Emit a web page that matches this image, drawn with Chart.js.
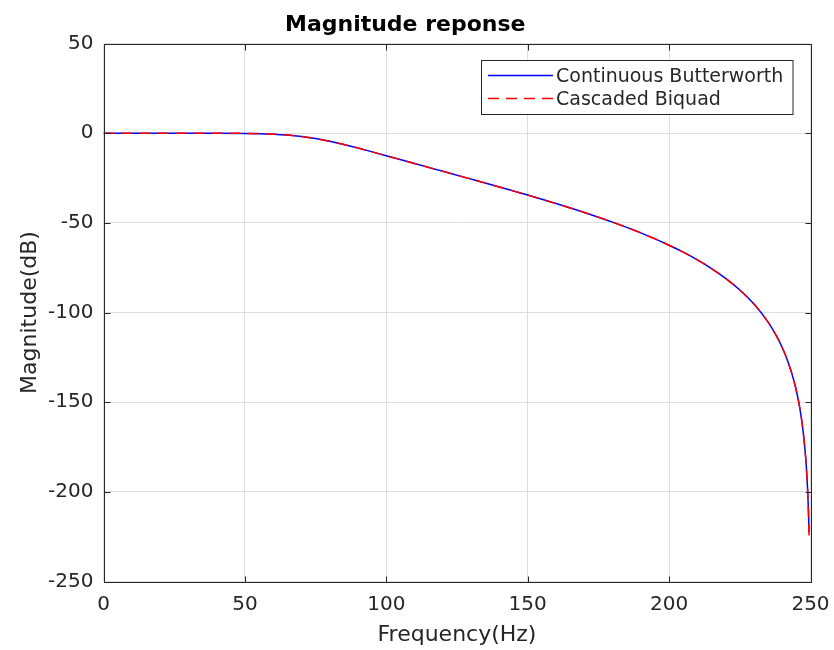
<!DOCTYPE html>
<html>
<head>
<meta charset="utf-8">
<script src="https://cdn.jsdelivr.net/npm/chart.js@4.4.0/dist/chart.umd.min.js"></script>
<style>
html,body{margin:0;padding:0;background:#ffffff;}
#wrap{width:834px;height:650px;position:relative;}
canvas{display:block;}
</style>
</head>
<body>
<div id="wrap"><canvas id="c" width="834" height="650"></canvas></div>
<script>
const chartTitle = 'Magnitude reponse';
const xAxisTitle = 'Frequency(Hz)';
const yAxisTitle = 'Magnitude(dB)';
const seriesLabels = ['Continuous Butterworth', 'Cascaded Biquad'];
const xTicks = [0, 50, 100, 150, 200, 250];
const yTicks = [-250, -200, -150, -100, -50, 0, 50];

const freqHz = [0, 10, 20, 30, 40, 50, 55, 60, 65, 70, 75, 80, 85, 90, 95, 100, 110, 120, 130, 140, 150, 160, 170, 180, 190, 200, 205, 210, 215, 220, 225, 230, 235, 238, 240, 242, 244, 245, 246, 247, 248, 248.5, 249, 249.3, 249.5];
const butterworthDb = [0, 0, 0, 0, -0.02, -0.12, -0.26, -0.54, -1.04, -1.85, -3.01, -4.53, -6.33, -8.32, -10.42, -12.57, -16.93, -21.27, -25.62, -30.02, -34.53, -39.23, -44.21, -49.62, -55.62, -62.48, -66.37, -70.66, -75.48, -80.99, -87.45, -95.3, -105.38, -113.17, -119.53, -127.3, -137.3, -143.64, -151.4, -161.4, -175.49, -185.48, -199.57, -211.96, -222.5];
const biquadDb = [0, 0, 0, 0, -0.02, -0.12, -0.26, -0.54, -1.04, -1.85, -3.01, -4.53, -6.33, -8.32, -10.42, -12.57, -16.93, -21.27, -25.62, -30.02, -34.53, -39.23, -44.21, -49.62, -55.62, -62.48, -66.37, -70.66, -75.48, -80.99, -87.45, -95.3, -105.38, -113.17, -119.53, -127.3, -137.3, -143.64, -151.4, -161.4, -175.49, -185.48, -199.57, -212.5, -226.5];

const FONT = "'DejaVu Sans', sans-serif";
const AX = '#262626';

function toPoints(xs, ys) { return xs.map((x, i) => ({ x: x, y: ys[i] })); }

const matlabAxes = {
  id: 'matlabAxes',
  afterDatasetsDraw(chart) {
    const ctx = chart.ctx;
    const a = chart.chartArea;
    const xs = chart.scales.x, ys = chart.scales.y;
    const L = Math.round(a.left) + 0.5, R = Math.round(a.right) + 0.5;
    const T = Math.round(a.top) + 0.5, B = Math.round(a.bottom) + 0.5;
    ctx.save();
    ctx.strokeStyle = AX;
    ctx.lineWidth = 1;
    ctx.beginPath();
    ctx.rect(L, T, R - L, B - T);
    ctx.stroke();
    const tl = 6;
    ctx.beginPath();
    xTicks.forEach(v => {
      const px = Math.round(xs.getPixelForValue(v)) + 0.5;
      ctx.moveTo(px, B); ctx.lineTo(px, B - tl);
      ctx.moveTo(px, T); ctx.lineTo(px, T + tl);
    });
    yTicks.forEach(v => {
      const py = Math.round(ys.getPixelForValue(v)) + 0.5;
      ctx.moveTo(L, py); ctx.lineTo(L + tl, py);
      ctx.moveTo(R, py); ctx.lineTo(R - tl, py);
    });
    ctx.stroke();

    // legend box (inside, top-right)
    const bx = 481.5, by = 60.5, bw = 311.5, bh = 54;
    ctx.fillStyle = '#ffffff';
    ctx.fillRect(bx, by, bw, bh);
    ctx.strokeStyle = AX;
    ctx.strokeRect(bx, by, bw, bh);
    const rows = [76, 99];
    chart.data.datasets.forEach((ds, i) => {
      const yy = rows[i];
      ctx.save();
      ctx.strokeStyle = ds.borderColor;
      ctx.lineWidth = ds.borderWidth;
      ctx.setLineDash(ds.borderDash || []);
      ctx.beginPath();
      ctx.moveTo(488, yy - 0.5);
      ctx.lineTo(553, yy - 0.5);
      ctx.stroke();
      ctx.restore();
      ctx.fillStyle = AX;
      ctx.font = '19px ' + FONT;
      ctx.textAlign = 'left';
      ctx.textBaseline = 'middle';
      ctx.fillText(ds.label, 556, yy + 1);
    });
    ctx.restore();
  }
};

new Chart(document.getElementById('c'), {
  type: 'line',
  data: {
    datasets: [
      {
        label: seriesLabels[0],
        data: toPoints(freqHz, butterworthDb),
        borderColor: '#0000ff',
        borderWidth: 1.5,
        pointRadius: 0,
        fill: false,
        cubicInterpolationMode: 'monotone',
        order: 1
      },
      {
        label: seriesLabels[1],
        data: toPoints(freqHz, biquadDb),
        borderColor: '#ff0000',
        borderWidth: 1.5,
        borderDash: [11, 7],
        pointRadius: 0,
        fill: false,
        cubicInterpolationMode: 'monotone',
        order: 0
      }
    ]
  },
  options: {
    responsive: false,
    animation: false,
    devicePixelRatio: 1,
    layout: { padding: { left: 0, right: 23.5, top: 0, bottom: 0 } },
    plugins: {
      legend: { display: false },
      tooltip: { enabled: false },
      title: {
        display: true,
        text: chartTitle,
        color: '#000000',
        font: { family: FONT, size: 22, weight: 'bold', lineHeight: 1.2 },
        padding: { top: 12.4, bottom: 4.7 }
      }
    },
    scales: {
      x: {
        type: 'linear',
        min: 0,
        max: 250,
        afterBuildTicks: s => { s.ticks = xTicks.map(v => ({ value: v })); },
        afterFit: s => { s.height = 68.5; s.paddingLeft = 0; s.paddingRight = 0; },
        grid: { color: '#dfdfdf', lineWidth: 1, drawTicks: false },
        border: { display: false },
        ticks: { color: AX, font: { family: FONT, size: 20 }, padding: 11, maxRotation: 0 },
        title: { display: true, text: xAxisTitle, color: AX, font: { family: FONT, size: 22, lineHeight: 1.2 }, padding: { top: 0, bottom: 1.3 } }
      },
      y: {
        type: 'linear',
        min: -250,
        max: 50,
        afterBuildTicks: s => { s.ticks = yTicks.map(v => ({ value: v })); },
        afterFit: s => { s.width = 103.5; s.paddingTop = 0; s.paddingBottom = 0; },
        grid: { color: '#dfdfdf', lineWidth: 1, drawTicks: false },
        border: { display: false },
        ticks: { color: AX, font: { family: FONT, size: 20 }, padding: 10 },
        title: { display: true, text: yAxisTitle, color: AX, font: { family: FONT, size: 22, lineHeight: 1.2 }, padding: { top: 17, bottom: 0 } }
      }
    }
  },
  plugins: [matlabAxes]
});
</script>
</body>
</html>
